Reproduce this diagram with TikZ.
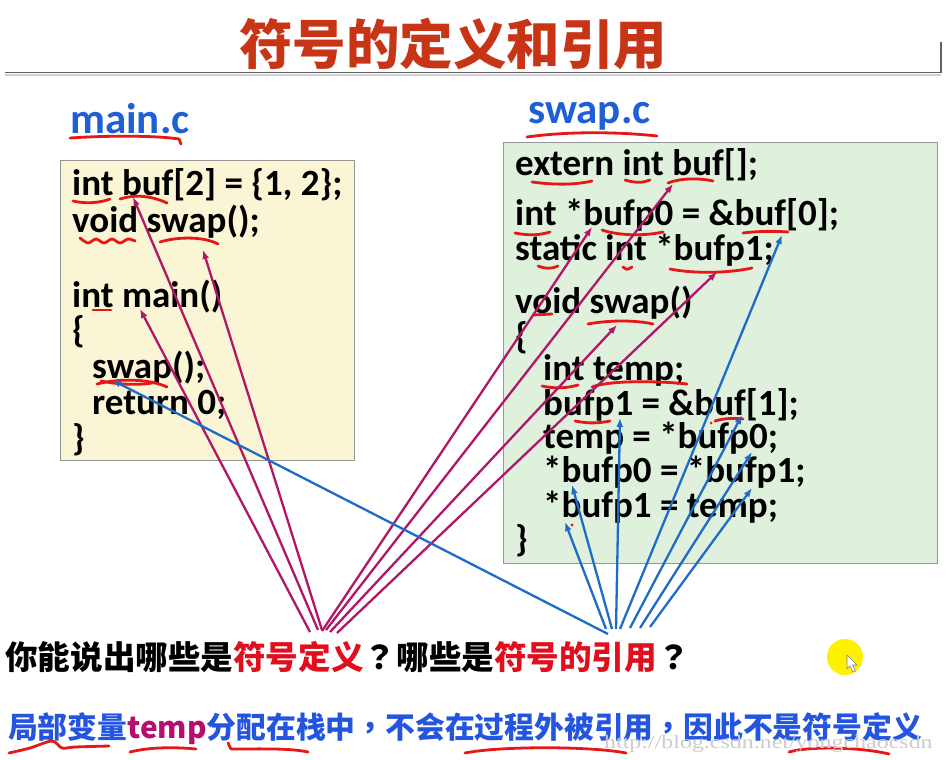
\documentclass[tikz,border=0pt]{standalone}
\usepackage{fontspec}
\usepackage{graphicx}
\usetikzlibrary{arrows.meta}
\newfontfamily\codefont{Carlito}
\newfontfamily\cjk{Noto Sans CJK SC}
\newfontfamily\cjkpunct{Noto Sans CJK TC}
\newfontfamily\wmfont{Liberation Serif}
% centred full-width punctuation
\newcommand{\qmark}{{\cjkpunct ？}}
\newcommand{\cmark}{{\cjkpunct ，}}

\definecolor{titlered}{RGB}{200,52,22}
\definecolor{labelblue}{RGB}{30,95,215}
\definecolor{mainfill}{RGB}{250,245,212}
\definecolor{swapfill}{RGB}{223,240,220}
\definecolor{boxline}{RGB}{150,150,150}
\definecolor{defcol}{RGB}{178,22,102}
\definecolor{refcol}{RGB}{30,108,200}
\definecolor{inkred}{RGB}{232,22,22}
\definecolor{qred}{RGB}{225,15,30}
\definecolor{noteblue}{RGB}{35,85,225}
\definecolor{tempmg}{RGB}{180,15,110}
\definecolor{hilite}{RGB}{255,240,0}

\tikzset{
  codeline/.style={anchor=base west, inner sep=0pt,
    font=\codefont\bfseries\fontsize{37}{40}\selectfont},
  filelabel/.style={anchor=base west, inner sep=0pt, text=labelblue,
    font=\codefont\bfseries\fontsize{43}{46}\selectfont},
  srcbox/.style={draw=boxline, line width=1.2pt},
  defarrow/.style={draw=defcol, line width=2.3pt,
    -{Latex[length=9pt,width=7pt]}},
  refarrow/.style={draw=refcol, line width=2.3pt,
    -{Latex[length=9pt,width=7pt]}},
  ink/.style={draw=inkred, line width=2.8pt, line cap=round, line join=round},
}

\begin{document}
\begin{tikzpicture}[x=1pt,y=-1pt]
\useasboundingbox (0,0) rectangle (948,760);
\fill[white] (0,0) rectangle (948,760);

% ---------- heading ----------
\node[inner sep=0pt, text=titlered, font=\cjk\bfseries\fontsize{53.5}{56}\selectfont]
  (title) at (453,44) {符号的定义和引用};
\draw[gray!35, line width=2pt] (5,75) -- (941,75);
\draw[gray!75!black, line width=1.8pt] (5,72.5) -- (941,72.5) -- (941,42);

% ---------- source boxes ----------
\node[srcbox, fill=mainfill, minimum width=294pt, minimum height=300pt,
  anchor=north west] (mainbox) at (60,160) {};
\node[srcbox, fill=swapfill, minimum width=434pt, minimum height=421pt,
  anchor=north west] (swapbox) at (503,142) {};

\node[filelabel] (mainlbl) at (70,133) {main.c};
\node[filelabel] (swaplbl) at (528,123) {swap.c};

% main.c
\node[codeline] (m1) at (72,195) {int buf[2] = \{1, 2\};};
\node[codeline] (m2) at (72,232) {void swap();};
\node[codeline] (m3) at (72,307) {int main()};
\node[codeline] (m4) at (72,342) {\{};
\node[codeline] (m5) at (92,378) {swap();};
\node[codeline] (m6) at (92,414) {return 0;};
\node[codeline] (m7) at (72,450) {\}};

% swap.c
\node[codeline] (s1) at (515,175) {extern int buf[];};
\node[codeline] (s2) at (515,225) {int *bufp0 = \&buf[0];};
\node[codeline] (s3) at (515,260) {static int *bufp1;};
\node[codeline] (s4) at (515,313) {void swap()};
\node[codeline] (s5) at (515,348) {\{};
\node[codeline] (s6) at (543,380) {int temp;};
\node[codeline] (s7) at (543,415) {bufp1 = \&buf[1];};
\node[codeline] (s8) at (543,448) {temp = *bufp0;};
\node[codeline] (s9) at (543,482) {*bufp0 = *bufp1;};
\node[codeline] (s10) at (543,517) {*bufp1 = temp;};
\node[codeline] (s11) at (515,551) {\}};

% ---------- hand-drawn underlines ----------
\draw[ink] (70,138) .. controls (115,135) and (160,136) .. (179,139) -- (181,144);
\draw[ink] (527,137) .. controls (570,131) and (620,132) .. (657,136);

\draw[ink] (73,201) .. controls (85,204) and (100,203) .. (110,199);
\draw[ink] (120,199) .. controls (135,194) and (152,196) .. (167,203);
\draw[ink] plot[smooth] coordinates {(80,238) (88,243) (96,239) (104,243) (112,239) (120,243) (128,239) (135,241)};
\draw[ink] (160,242) .. controls (180,236) and (205,237) .. (218,244);
\draw[ink] (93,310) -- (111,310);
\draw[ink] (97,384) .. controls (120,378) and (150,379) .. (167,387);
\draw[ink] (101,381) .. controls (120,385) and (140,385) .. (152,383);

\draw[ink] (532,182) .. controls (555,185) and (575,185) .. (592,181);
\draw[ink] (625,180) .. controls (635,183) and (643,183) .. (650,180);
\draw[ink] (668,183) .. controls (680,178) and (700,178) .. (713,181);
\draw[ink] (515,233) .. controls (530,236) and (540,235) .. (550,232);
\draw[ink] (602,230) .. controls (620,236) and (645,236) .. (663,232);
\draw[ink] (743,233) .. controls (760,231) and (775,231) .. (788,232);
\draw[ink] (538,266) .. controls (545,269) and (552,269) .. (558,266);
\draw[ink] (623,267) .. controls (627,270) .. (632,267);
\draw[ink] (670,269) .. controls (695,274) and (730,273) .. (752,268);
\draw[ink] (533,315) -- (552,314);
\draw[ink] (588,324) .. controls (610,320) and (635,320) .. (653,324);
\draw[ink] (542,386) .. controls (555,389) and (568,388) .. (578,385);
\draw[ink] (592,387) .. controls (610,380) and (660,381) .. (687,384);
\draw[ink] (575,421) .. controls (590,424) and (600,423) .. (610,421);
\draw[ink] (715,421) .. controls (725,418) and (735,418) .. (743,419);
\fill[inkred] (711,423) circle (1.5pt);
\fill[inkred] (572,525) circle (1.6pt);

% ---------- questions ----------
\node[anchor=base west, inner sep=0pt, font=\cjk\bfseries\fontsize{32.6}{36}\selectfont]
  (question) at (5,669)
  {你能说出哪些是\textcolor{qred}{符号定义}\qmark 哪些是\textcolor{qred}{符号的引用}\qmark};
\node[anchor=base west, inner sep=0pt, text=noteblue,
  font=\cjk\bfseries\fontsize{29.8}{34}\selectfont]
  (note) at (8,738)
  {局部变量\textcolor{tempmg}{temp}分配在栈中\cmark 不会在过程外被引用\cmark 因此不是符号定义};

\draw[ink] plot[smooth] coordinates {(9,753) (30,748) (52,741) (62,748) (75,747) (109,746)};
\draw[ink] (130,752) .. controls (150,747) and (175,747) .. (196,749);
\draw[ink] (228,743) -- (231,749) .. controls (260,749) and (290,748) .. (308,752);
\draw[ink] (465,753) .. controls (500,746) and (590,746) .. (626,753);
\draw[ink] (789,752) .. controls (810,746) and (860,747) .. (889,754);

% ---------- definition arrows ----------
\coordinate (dA) at (318,630);
\coordinate (dB) at (322,630);
\coordinate (dC) at (310,632);
\coordinate (dD) at (326,630);
\coordinate (dE) at (322,631);
\coordinate (dF) at (337,633);
\coordinate (dG) at (330,632);
\coordinate (defBuf) at (133,197);
\coordinate (defSwapDecl) at (203,250);
\coordinate (defMain) at (140,309);
\coordinate (defExtBuf) at (673,184);
\coordinate (defBufp0) at (592,227);
\coordinate (defBufp1) at (717,272);
\coordinate (defSwap) at (617,325);
\draw[defarrow] (dA) -- (defBuf);
\draw[defarrow] (dB) -- (defSwapDecl);
\draw[defarrow] (dC) -- (defMain);
\draw[defarrow] (dD) -- (defExtBuf);
\draw[defarrow] (dE) -- (defBufp0);
\draw[defarrow] (dF) -- (defBufp1);
\draw[defarrow] (dG) -- (defSwap);

% ---------- reference arrows ----------
\coordinate (rA) at (608,634);
\coordinate (rB) at (606,629);
\coordinate (rC) at (612,629);
\coordinate (rD) at (616,629);
\coordinate (rE) at (620,629);
\coordinate (rF) at (630,628);
\coordinate (rG) at (640,628);
\coordinate (rH) at (650,627);
\coordinate (refSwapCall) at (112,380);
\coordinate (refStarP1) at (565,522);
\coordinate (refStarP0) at (572,485);
\coordinate (refP1) at (620,418);
\coordinate (refBuf0) at (782,235);
\coordinate (refBuf1) at (742,415);
\coordinate (refP0) at (752,452);
\coordinate (refP1b) at (752,488);
\draw[refarrow] (rA) -- (refSwapCall);
\draw[refarrow] (rB) -- (refStarP1);
\draw[refarrow] (rC) -- (refStarP0);
\draw[refarrow] (rD) -- (refP1);
\draw[refarrow] (rE) -- (refBuf0);
\draw[refarrow] (rF) -- (refBuf1);
\draw[refarrow] (rG) -- (refP0);
\draw[refarrow] (rH) -- (refP1b);

% ---------- pointer highlight ----------
\fill[hilite] (845,657) circle (18pt);
\filldraw[fill=white, draw=gray, line width=0.6pt, line join=round]
  (847,655) -- (847,669) -- (850,666) -- (853,672) -- (855.5,671) -- (852.5,665) -- (857,665) -- cycle;

% ---------- watermark ----------
\node[anchor=base west, inner sep=0pt, text=gray!40,
  font=\wmfont\fontsize{19}{20}\selectfont] (wm) at (604,748)
  {\scalebox{1.26}[1]{http://blog.csdn.net/yongchaocsdn}};
\end{tikzpicture}
\end{document}
